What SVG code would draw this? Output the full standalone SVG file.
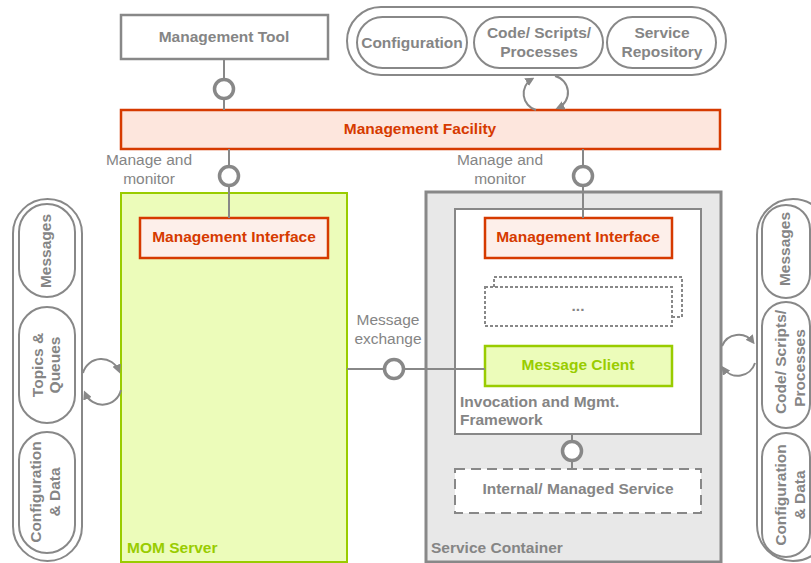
<svg xmlns="http://www.w3.org/2000/svg" width="811" height="563" viewBox="0 0 811 563">
<style>
text{font-family:"Liberation Sans",Arial,sans-serif;font-size:15.5px}
.b{font-weight:bold}
.g{fill:#858585}
.r{fill:#d63a00}
.gr{fill:#99cc00}
.m{text-anchor:middle}
.box{fill:#ffffff;stroke:#888888;stroke-width:2.5}
.pill{fill:#ffffff;stroke:#888888;stroke-width:2}
.ln{fill:none;stroke:#888888;stroke-width:2}
.lol{fill:#ffffff;stroke:#888888;stroke-width:3.5}
.arc{fill:none;stroke:#888888;stroke-width:2}
</style>
<defs>
<marker id="ah" viewBox="0 0 10 10" refX="7" refY="5" markerWidth="9" markerHeight="9" orient="auto" markerUnits="userSpaceOnUse">
<path d="M0,0 L10,5 L0,10 Z" fill="#888888"/>
</marker>
</defs>

<g id="storage-top">
<rect x="347" y="7" width="379" height="68" rx="34" class="pill"/>
<rect x="357" y="17" width="110" height="51" rx="25.5" class="pill"/>
<rect x="474" y="17" width="129" height="51" rx="25.5" class="pill"/>
<rect x="607" y="17" width="109" height="51" rx="25.5" class="pill"/>
<text x="412" y="48" class="b g m">Configuration</text>
<text x="539" y="38" class="b g m">Code/ Scripts/</text>
<text x="539" y="57" class="b g m">Processes</text>
<text x="662" y="38" class="b g m">Service</text>
<text x="662" y="57" class="b g m">Repository</text>
</g>

<g id="storage-left">
<rect x="13" y="199" width="69" height="362" rx="34.5" class="pill"/>
<rect x="19" y="204" width="56" height="93" rx="28" class="pill"/>
<rect x="19" y="307" width="56" height="116" rx="28" class="pill"/>
<rect x="19" y="432" width="56" height="121" rx="28" class="pill"/>
<text transform="translate(51,251) rotate(-90)" class="b g m">Messages</text>
<text transform="translate(43,365) rotate(-90)" class="b g m">Topics &amp;</text>
<text transform="translate(60,365) rotate(-90)" class="b g m">Queues</text>
<text transform="translate(41,492) rotate(-90)" class="b g m">Configuration</text>
<text transform="translate(60,492) rotate(-90)" class="b g m">&amp; Data</text>
</g>

<g id="storage-right">
<rect x="757" y="199" width="72" height="362" rx="36" class="pill"/>
<rect x="762" y="205" width="48" height="93" rx="24" class="pill"/>
<rect x="762" y="302" width="48" height="126" rx="24" class="pill"/>
<rect x="762" y="433" width="48" height="124" rx="24" class="pill"/>
<text transform="translate(790,249) rotate(-90)" class="b g m">Messages</text>
<text transform="translate(786,362) rotate(-90)" class="b g m">Code/ Scripts/</text>
<text transform="translate(805,368) rotate(-90)" class="b g m">Processes</text>
<text transform="translate(786,495) rotate(-90)" class="b g m">Configuration</text>
<text transform="translate(805,495) rotate(-90)" class="b g m">&amp; Data</text>
</g>

<g id="management-tool">
<rect x="121" y="15" width="207" height="44" class="box"/>
<text x="224" y="42" class="b g m">Management Tool</text>
</g>

<g id="management-facility">
<rect x="121" y="110" width="599" height="39" fill="#fde6dd" stroke="#d63a00" stroke-width="2.5"/>
<text x="420" y="134" class="b r m">Management Facility</text>
</g>

<g id="mom-server">
<rect x="121" y="193" width="226" height="369" fill="#ecfcba" stroke="#99cc00" stroke-width="2"/>
<text x="127" y="553" class="b gr">MOM Server</text>
</g>

<g id="mgmt-interface-left">
<rect x="140" y="218" width="188" height="40" fill="#fdefea" stroke="#d63a00" stroke-width="2.5"/>
<text x="234" y="242" class="b r m">Management Interface</text>
</g>

<g id="service-container">
<rect x="426" y="192" width="295" height="370" fill="#e8e8e8" stroke="#888888" stroke-width="3"/>
<text x="431" y="553" class="b g">Service Container</text>
</g>

<g id="framework">
<rect x="455" y="209" width="246" height="225" fill="#ffffff" stroke="#888888" stroke-width="2"/>
<text x="460" y="407" class="b g">Invocation and Mgmt.</text>
<text x="460" y="425" class="b g">Framework</text>
</g>

<g id="mgmt-interface-right">
<rect x="485" y="218" width="187" height="40" fill="#fdefea" stroke="#d63a00" stroke-width="2.5"/>
<text x="578" y="242" class="b r m">Management Interface</text>
</g>

<g id="other-components">
<path d="M494,287 V277 H682 V317 H672" fill="none" stroke="#888888" stroke-width="2" stroke-dasharray="3,2"/>
<rect x="485" y="287" width="187" height="39" fill="#ffffff" stroke="#888888" stroke-width="2" stroke-dasharray="3,2"/>
<text x="578" y="311" class="b g m">...</text>
</g>

<g id="message-client">
<rect x="485" y="346" width="187" height="40" fill="#ecfcba" stroke="#99cc00" stroke-width="2.5"/>
<text x="578" y="370" class="b gr m">Message Client</text>
</g>

<g id="internal-service">
<rect x="455" y="469" width="246" height="44" fill="#ffffff" stroke="#888888" stroke-width="2" stroke-dasharray="10,6"/>
<text x="578" y="494" class="b g m">Internal/ Managed Service</text>
</g>

<g id="connectors">
<line x1="224" y1="59" x2="224" y2="110" class="ln"/>
<circle cx="224" cy="89" r="9.5" class="lol"/>
<line x1="229" y1="149" x2="229" y2="218" class="ln"/>
<circle cx="229" cy="176" r="9.5" class="lol"/>
<line x1="583" y1="149" x2="583" y2="218" class="ln"/>
<circle cx="583" cy="176" r="9.5" class="lol"/>
<line x1="347" y1="369" x2="485" y2="369" class="ln"/>
<circle cx="394" cy="369" r="9.5" class="lol"/>
<line x1="572" y1="434" x2="572" y2="469" class="ln"/>
<circle cx="572" cy="451" r="9.5" class="lol"/>
<text x="149" y="165" class="g m">Manage and</text>
<text x="149" y="184" class="g m">monitor</text>
<text x="500" y="165" class="g m">Manage and</text>
<text x="500" y="184" class="g m">monitor</text>
<text x="388" y="325" class="g m">Message</text>
<text x="388" y="344" class="g m">exchange</text>
<path d="M536,110 A17,17 0 0 1 532,79" class="arc" marker-end="url(#ah)"/>
<path d="M555,76 A17,17 0 0 1 558,108" class="arc" marker-end="url(#ah)"/>
<path d="M83,373 A19,19 0 0 1 119,371" class="arc" marker-end="url(#ah)"/>
<path d="M121,390 A19,19 0 0 1 85,393" class="arc" marker-end="url(#ah)"/>
<path d="M722,346 A18,18 0 0 1 753,342" class="arc" marker-end="url(#ah)"/>
<path d="M755,363 A18,18 0 0 1 723,368" class="arc" marker-end="url(#ah)"/>
</g>
</svg>
